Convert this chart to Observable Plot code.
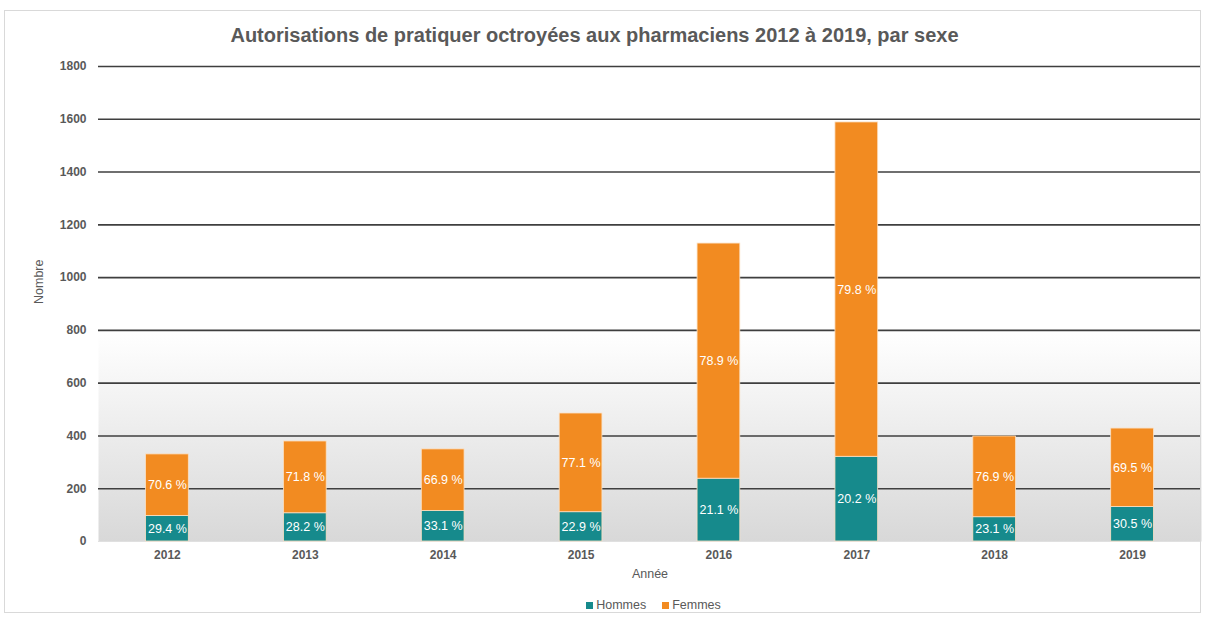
<!DOCTYPE html>
<html>
<head>
<meta charset="utf-8">
<script src="https://cdn.jsdelivr.net/npm/d3@7"></script>
<script src="https://cdn.jsdelivr.net/npm/@observablehq/plot@0.6"></script>
<style>
  html, body { margin: 0; padding: 0; background: #fff; }
  body { width: 1207px; height: 619px; position: relative; overflow: hidden; font-family: "Liberation Sans", Arial, sans-serif; }
  #frame { position: absolute; left: 4px; top: 10px; width: 1197px; height: 603px; border: 1px solid #d9d9d9; box-sizing: border-box; pointer-events: none; }
  #title { height: 50px; box-sizing: border-box; padding-top: 23px; padding-right: 18px; text-align: center; font-weight: bold; font-size: 20px; color: #595959; line-height: 24px; }
  #chart { height: 541px; }
  #legend { display: flex; justify-content: center; align-items: center; gap: 16px; font-size: 12.5px; color: #595959; padding-left: 100px; margin-top: 7px; }
  .item { display: flex; align-items: center; gap: 3px; }
  .sw { width: 7px; height: 7px; display: inline-block; }
</style>
</head>
<body>
<div id="frame"></div>
<div id="title">Autorisations de pratiquer octroyées aux pharmaciens 2012 à 2019, par sexe</div>
<div id="chart"></div>
<div id="legend"></div>
<script>
const years = ["2012", "2013", "2014", "2015", "2016", "2017", "2018", "2019"];
const hommes = [97, 107, 116, 111, 238, 321, 92, 131];
const femmes = [233, 272, 233, 374, 891, 1267, 306, 297];
const hommesPct = ["29.4 %", "28.2 %", "33.1 %", "22.9 %", "21.1 %", "20.2 %", "23.1 %", "30.5 %"];
const femmesPct = ["70.6 %", "71.8 %", "66.9 %", "77.1 %", "78.9 %", "79.8 %", "76.9 %", "69.5 %"];
const series = ["Hommes", "Femmes"];
const colors = ["#168a8c", "#f28b21"];
const yTicks = [0, 200, 400, 600, 800, 1000, 1200, 1400, 1600, 1800];

const rows = [];
years.forEach((y, i) => {
  rows.push({year: y, sexe: "Hommes", value: hommes[i], label: hommesPct[i]});
  rows.push({year: y, sexe: "Femmes", value: femmes[i], label: femmesPct[i]});
});

const plot = Plot.plot({
  width: 1207,
  height: 541,
  marginLeft: 98,
  marginRight: 6,
  marginTop: 16,
  marginBottom: 50,
  style: {fontFamily: "'Liberation Sans', Arial, sans-serif", background: "transparent"},
  x: {domain: years, paddingInner: 0.69, paddingOuter: 0.345, round: false, label: null},
  y: {domain: [0, 1800], label: null},
  color: {domain: series, range: colors},
  marks: [
    Plot.frame({fill: "url(#bggrad)"}),
    Plot.ruleY(yTicks.filter(d => d > 0), {stroke: "#3f3f3f", strokeWidth: 1.6}),
    Plot.ruleY([0], {stroke: "#e0e0e0", strokeWidth: 1}),
    Plot.barY(rows, Plot.stackY({x: "year", y: "value", z: "sexe", fill: "sexe", stroke: "#fbe0c4", strokeWidth: 0.8, order: series})),
    Plot.text(rows, Plot.stackY({x: "year", y: "value", z: "sexe", text: "label", fill: "#ffffff", fontSize: 12.5, order: series})),
    Plot.axisY({ticks: yTicks, tickFormat: d => String(d), tickSize: 0, tickPadding: 12, label: null, fontWeight: "bold", fontSize: 12, fill: "#595959"}),
    Plot.axisX({tickSize: 0, tickPadding: 9, label: null, fontWeight: "bold", fontSize: 12, fill: "#595959"}),
    Plot.text(["Nombre"], {frameAnchor: "left", rotate: -90, dx: -60, fontSize: 12.5, fill: "#595959"}),
    Plot.text(["Année"], {frameAnchor: "bottom", dy: 36, fontSize: 12.5, fill: "#595959"})
  ]
});

const svg = d3.select(plot);
const defs = svg.insert("defs", ":first-child");
const grad = defs.append("linearGradient").attr("id", "bggrad").attr("x1", 0).attr("y1", 1).attr("x2", 0).attr("y2", 0);
grad.append("stop").attr("offset", "0").attr("stop-color", "#d8d8d8");
grad.append("stop").attr("offset", "0.44").attr("stop-color", "#ffffff");
grad.append("stop").attr("offset", "1").attr("stop-color", "#ffffff");

document.getElementById("chart").appendChild(plot);

const legend = document.getElementById("legend");
series.forEach((s, i) => {
  const it = document.createElement("span");
  it.className = "item";
  it.innerHTML = `<span class="sw" style="background:${colors[i]}"></span>${s}`;
  legend.appendChild(it);
});
</script>
</body>
</html>
